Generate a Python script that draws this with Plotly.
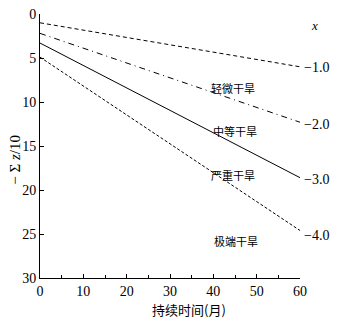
import plotly.graph_objects as go

months = [0, 60]
series_names = ["-1.0", "-2.0", "-3.0", "-4.0"]
line_start = [1.0, 2.2, 3.3, 4.9]
line_end = [6.0, 12.3, 18.6, 24.6]
dash_styles = ["4px,3px", "6px,4px,1px,4px", "solid", "3px,2px"]

category_labels = ["轻微干旱", "中等干旱", "严重干旱", "极端干旱"]
category_pos = [(44.5, 8.4), (45, 13.3), (44.5, 18.3), (45.3, 25.8)]
index_label_pos = [6.1, 12.6, 18.75, 25.2]

x_ticks = [0, 10, 20, 30, 40, 50, 60]
y_ticks = [0, 5, 10, 15, 20, 25, 30]

x_title = "持续时间(月)"
y_title = "− Σ <i>z</i>/10"

serif = "Liberation Serif"
cjk = "Noto Sans CJK SC"

fig = go.Figure()
for s, e, d in zip(line_start, line_end, dash_styles):
    fig.add_trace(go.Scatter(x=months, y=[s, e], mode="lines",
                             line=dict(color="black", width=1, dash=d),
                             showlegend=False, hoverinfo="skip"))

ann = []
for lab, (x, y) in zip(category_labels, category_pos):
    ann.append(dict(x=x, y=y, xref="x", yref="y", text=lab, showarrow=False,
                    font=dict(family=cjk, size=11, color="black")))
for lab, y in zip(series_names, index_label_pos):
    ann.append(dict(x=1.006, y=y, xref="paper", yref="y", text=lab.replace("-", "−"), showarrow=False,
                    xanchor="left", font=dict(family=serif, size=14, color="black")))
ann.append(dict(x=1.033, y=1.25, xref="paper", yref="y", text="<i>x</i>", showarrow=False,
                xanchor="left", font=dict(family=serif, size=13, color="black")))
# axis titles placed as in the reference (offset from the plot centre)
ann.append(dict(x=0.573, y=-0.121, xref="paper", yref="paper", text=x_title, showarrow=False,
                xanchor="center", yanchor="middle", font=dict(family=cjk, size=13, color="black")))
ann.append(dict(x=-0.097, y=0.447, xref="paper", yref="paper", text=y_title, showarrow=False,
                textangle=-90, xanchor="center", yanchor="middle",
                font=dict(family=serif, size=15, color="black")))

fig.update_layout(
    width=343, height=322,
    margin=dict(l=40, r=43, t=14, b=44),
    paper_bgcolor="white", plot_bgcolor="white",
    annotations=ann,
    xaxis=dict(range=[0, 60], tickvals=x_ticks, ticks="inside", ticklen=4, automargin=False,
               showline=True, linecolor="black", linewidth=1, showgrid=False, zeroline=False,
               minor=dict(dtick=5, ticks="inside", ticklen=3, tickcolor="black"),
               tickcolor="black", tickfont=dict(family=serif, size=14, color="black")),
    yaxis=dict(range=[30, 0], tickvals=y_ticks, ticks="inside", ticklen=4, automargin=False,
               showline=True, linecolor="black", linewidth=1, showgrid=False, zeroline=False,
               tickcolor="black", tickfont=dict(family=serif, size=14, color="black")),
)

fig.write_html("out.html", config={"displayModeBar": False},
               post_script="document.body.style.margin='0';document.body.style.overflow='hidden';")
